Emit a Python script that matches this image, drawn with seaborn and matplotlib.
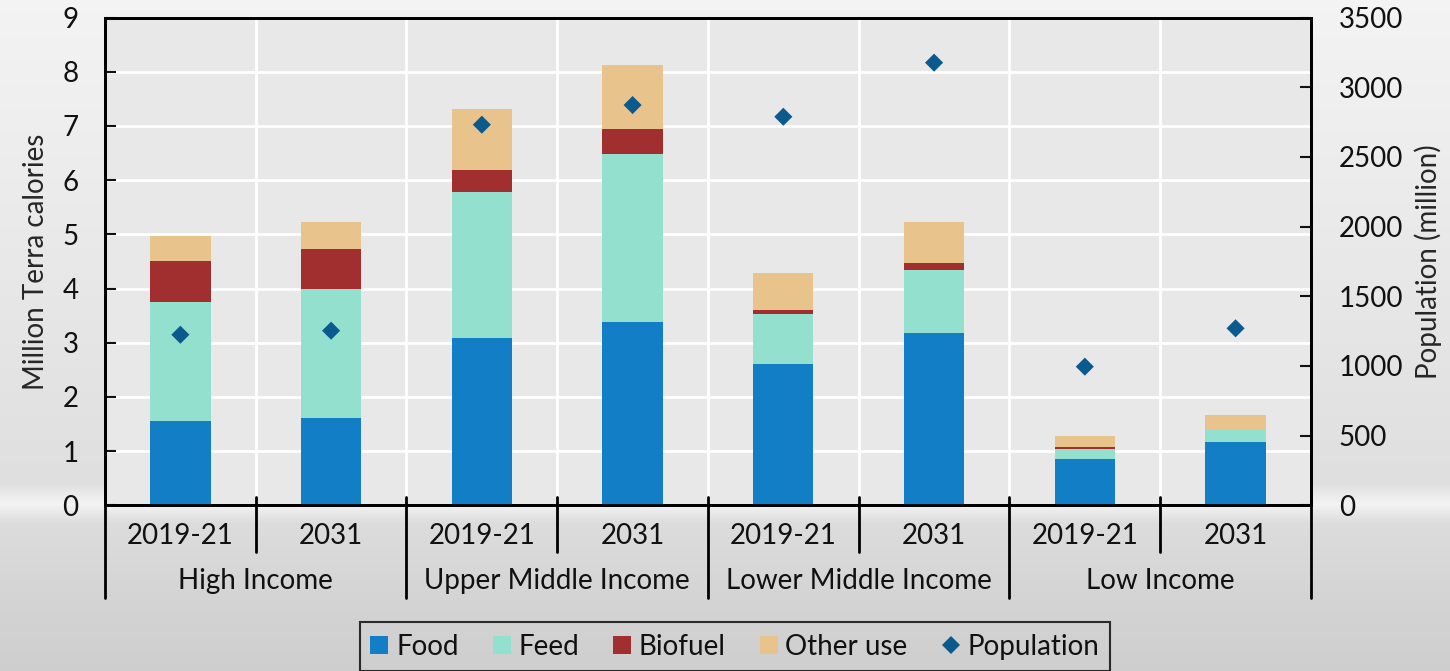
import numpy as np
import pandas as pd
import matplotlib
matplotlib.use("Agg")
import matplotlib.pyplot as plt
import matplotlib.transforms as mtransforms
from matplotlib.lines import Line2D
import seaborn as sns

# ---------------- data ----------------
groups = ["High Income", "Upper Middle Income", "Lower Middle Income", "Low Income"]
years = ["2019-21", "2031"]
food = [1.55, 1.62, 3.08, 3.39, 2.61, 3.18, 0.85, 1.17]
feed = [2.21, 2.37, 2.70, 3.10, 0.92, 1.16, 0.19, 0.23]
biofuel = [0.74, 0.73, 0.40, 0.45, 0.07, 0.14, 0.04, 0.01]
other_use = [0.47, 0.51, 1.13, 1.18, 0.69, 0.75, 0.20, 0.26]
population = [1224, 1253, 2731, 2872, 2788, 3176, 995, 1270]
left_ticks = list(range(0, 10))
right_ticks = list(range(0, 3501, 500))

series_names = ["Food", "Feed", "Biofuel", "Other use"]
colors = {"Food": "#117ec6", "Feed": "#93e0cf", "Biofuel": "#a12f30",
          "Other use": "#e8c48c", "Population": "#0b5a8e"}

keys = [f"{g}|{y}" for g in groups for y in years]
df = pd.DataFrame({"key": keys, "Food": food, "Feed": feed,
                   "Biofuel": biofuel, "Other use": other_use,
                   "Population": population})
cum = df[series_names].cumsum(axis=1)

# ---------------- style ----------------
sns.set_theme(style="white")
plt.rcParams['font.family'] = ['Lato', 'DejaVu Sans']
plt.rcParams['text.color'] = '#111111'

fig = plt.figure(figsize=(14.5, 6.71), dpi=100)

# background gradient
bg = fig.add_axes([0, 0, 1, 1], zorder=-10)
rows = np.linspace(0, 1, 671)
stops_y = [0.0, 0.72, 0.752, 0.78, 0.90, 1.0]
stops_v = [0.955, 0.875, 0.955, 0.865, 0.83, 0.81]
vals = np.interp(rows, stops_y, stops_v)
img = np.repeat(vals[:, None], 10, axis=1)
bg.imshow(np.dstack([img, img, img]), aspect='auto', extent=[0, 1, 0, 1])
bg.set_axis_off()

ax = fig.add_axes([0.0724, 0.2469, 0.8317, 0.7270])
ax.set_facecolor("#e8e8e8")

# stacked bars: draw cumulative totals from top layer down
for name in reversed(series_names):
    sns.barplot(x=df["key"], y=cum[name], color=colors[name], width=0.4,
                saturation=1, linewidth=0, errorbar=None, ax=ax, zorder=3)

ax.set_xlim(-0.5, len(keys) - 0.5)
ax.set_ylim(0, 9)
ax.set_yticks(left_ticks)
ax.set_xticks(range(len(keys)))
ax.set_xticklabels([])
ax.set_xlabel("")
ax.set_ylabel("Million Terra calories", fontsize=20, labelpad=10)
ax.set_xticks(np.arange(0.5, len(keys) - 0.5, 1), minor=True)
ax.set_axisbelow(True)
ax.yaxis.grid(True, color="white", linewidth=2)
ax.xaxis.grid(True, which="minor", color="white", linewidth=2)
ax.xaxis.grid(False, which="major")
ax.tick_params(axis="x", which="both", length=0)
ax.tick_params(axis="y", direction="in", length=8, width=1.5,
               labelsize=20, pad=19, colors="#111111")
for s in ax.spines.values():
    s.set_color("black")
    s.set_linewidth(2)
    s.set_visible(True)

# population on secondary axis
ax2 = ax.twinx()
sns.scatterplot(x=np.arange(len(keys)), y=df["Population"], marker="D", s=85,
                color=colors["Population"], edgecolor="none", ax=ax2, zorder=5,
                legend=False)
ax2.set_ylim(0, 3500)
ax2.set_xlim(-0.5, len(keys) - 0.5)
ax2.set_yticks(right_ticks)
ax2.set_ylabel("Population (million)", fontsize=20, labelpad=8)
ax2.grid(False)
ax2.tick_params(axis="y", direction="in", length=8, width=1.5,
                labelsize=20, pad=20, colors="#111111")
for s in ax2.spines.values():
    s.set_color("black")
    s.set_linewidth(2)

# multi-level category labels
trans = mtransforms.blended_transform_factory(ax.transData, ax.transAxes)
ah = 488.0
for i, k in enumerate(keys):
    g, y = k.split("|")
    ax.text(i, -31 / ah, y, transform=trans, ha="center", va="center",
            fontsize=20, clip_on=False)
for gi, g in enumerate(groups):
    ax.text(gi * 2 + 0.5, -76 / ah, g, transform=trans, ha="center",
            va="center", fontsize=20, clip_on=False)
for gi in range(len(groups)):
    xm = gi * 2 + 0.5
    ax.add_line(Line2D([xm, xm], [8 / ah, -47 / ah], transform=trans,
                       color="black", lw=2, clip_on=False))
for gi in range(len(groups) + 1):
    xb = gi * 2 - 0.5
    ax.add_line(Line2D([xb, xb], [8 / ah, -93 / ah], transform=trans,
                       color="black", lw=2, clip_on=False))

# legend
handles = [Line2D([], [], marker="s", linestyle="none", markersize=13,
                  color=colors[n], markeredgewidth=0) for n in series_names]
handles.append(Line2D([], [], marker="D", linestyle="none", markersize=9,
                      color=colors["Population"], markeredgewidth=0))
leg = fig.legend(handles, series_names + ["Population"], loc="upper center",
                 bbox_to_anchor=(0.507, 0.093), ncol=5, fontsize=20,
                 frameon=True, fancybox=False, handlelength=0.6,
                 handletextpad=0.3, columnspacing=1.25, borderpad=0.4)
leg.get_frame().set_edgecolor("black")
leg.get_frame().set_linewidth(1.5)
leg.get_frame().set_facecolor("none")

fig.savefig("out.png", dpi=100)
